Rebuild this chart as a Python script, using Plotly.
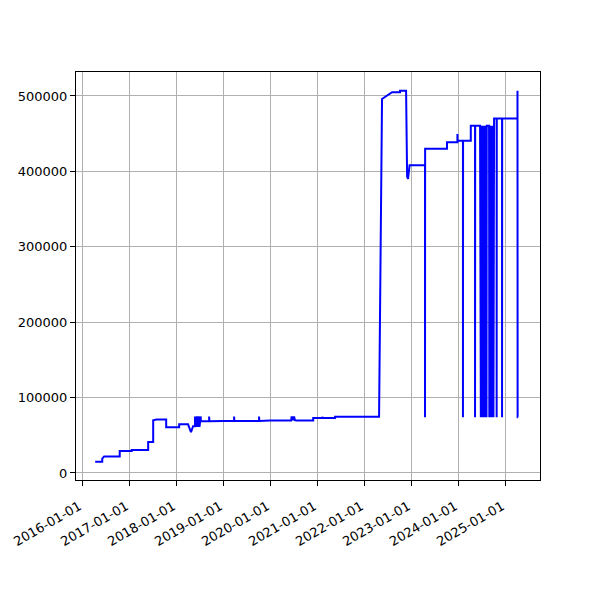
import plotly.graph_objects as go

dates = [
    "2016-04-11", "2016-06-05", "2016-06-05", "2016-06-20", "2016-10-19", "2016-10-19",
    "2017-01-20", "2017-01-20", "2017-05-28", "2017-05-28", "2017-07-06", "2017-07-06",
    "2017-08-01", "2017-10-15", "2017-10-15", "2018-01-24", "2018-01-24", "2018-04-03",
    "2018-04-26", "2018-05-12", "2018-05-27", "2018-05-27", "2018-06-03", "2018-06-10",
    "2018-06-17", "2018-06-24", "2018-07-01", "2018-07-11", "2018-07-11", "2018-09-14",
    "2018-09-14", "2018-09-16", "2019-01-01", "2019-03-27", "2019-03-27", "2019-03-29",
    "2019-10-07", "2019-10-07", "2019-10-09", "2020-01-01", "2020-06-13", "2020-06-16",
    "2020-06-20", "2020-06-25", "2020-06-30", "2020-07-05", "2020-07-12", "2020-07-22",
    "2020-12-01", "2020-12-01", "2021-02-10", "2021-02-10", "2021-02-12", "2021-05-20",
    "2021-05-20", "2022-04-27", "2022-05-20", "2022-08-06", "2022-10-07", "2022-10-07",
    "2022-11-23", "2022-12-01", "2022-12-08", "2022-12-20", "2023-04-19", "2023-04-19",
    "2023-04-20", "2023-10-07", "2023-10-07", "2023-12-27", "2023-12-27", "2023-12-28",
    "2024-02-08", "2024-02-08", "2024-02-09", "2024-04-09", "2024-04-09", "2024-05-12",
    "2024-05-12", "2024-05-13",
    "2024-06-20", "2024-06-22", "2024-06-24", "2024-06-26", "2024-06-28", "2024-06-30",
    "2024-07-02", "2024-07-04", "2024-07-06", "2024-07-08", "2024-07-10", "2024-07-12",
    "2024-07-14", "2024-07-16", "2024-07-18", "2024-07-20", "2024-07-22", "2024-07-24",
    "2024-07-26", "2024-07-28", "2024-07-30", "2024-08-01", "2024-08-03", "2024-08-05",
    "2024-08-07", "2024-08-09", "2024-08-11", "2024-08-13",
    "2024-08-29", "2024-08-31", "2024-09-02", "2024-09-04", "2024-09-06", "2024-09-08",
    "2024-09-10", "2024-09-12", "2024-09-14", "2024-09-16", "2024-09-18", "2024-09-20",
    "2024-09-22", "2024-09-24", "2024-09-26", "2024-09-28", "2024-09-30", "2024-10-02",
    "2024-10-04", "2024-10-06", "2024-10-07", "2024-10-07",
    "2024-10-27", "2024-10-27", "2024-10-28",
    "2024-12-08", "2024-12-08", "2024-12-09", "2025-04-07", "2025-04-07", "2025-04-08",
    "2025-04-09", "2025-04-10",
]
values = [
    15000, 15000, 19000, 22000, 22000, 29000,
    29000, 30500, 30500, 41000, 41000, 70000,
    71000, 71000, 60500, 60500, 64500, 64500,
    54000, 62000, 62000, 75000, 61000, 75000,
    61000, 75000, 61000, 75000, 68500, 68500,
    75000, 68500, 69000, 69000, 75000, 69000,
    69000, 75000, 69000, 69500, 69500, 75000,
    70000, 75000, 70000, 75000, 70000, 69500,
    69500, 73000, 73000, 74500, 73000, 73000,
    74500, 74500, 496000, 505000, 505000, 507000,
    507000, 393000, 390000, 408000, 408000, 74000,
    430000, 430000, 438500, 438500, 449500, 440600,
    440600, 74000, 440600, 440600, 460500, 460500,
    74000, 460500,
    460500, 74000, 460500, 74000, 460500, 74000,
    460500, 74000, 460500, 74000, 460500, 74000,
    460500, 74000, 460500, 74000, 460500, 74000,
    460500, 74000, 460500, 74000, 460500, 74000,
    460500, 74000, 460500, 460500,
    460500, 74000, 460500, 74000, 460500, 74000,
    460500, 74000, 460500, 74000, 460500, 74000,
    460500, 74000, 460500, 74000, 460500, 74000,
    460500, 74000, 460500, 470000,
    470000, 74000, 470000,
    470000, 74000, 470000, 470000, 507000, 74000,
    470000, 74000,
]

x_ticks = ["2016-01-01", "2017-01-01", "2018-01-01", "2019-01-01", "2020-01-01",
           "2021-01-01", "2022-01-01", "2023-01-01", "2024-01-01", "2025-01-01"]
y_ticks = [0, 100000, 200000, 300000, 400000, 500000]

fig = go.Figure()
fig.add_trace(go.Scatter(x=dates, y=values, mode="lines",
                         line=dict(color="#0000ff", width=2), showlegend=False))

axis_common = dict(
    showline=True, linecolor="black", linewidth=1, mirror=True,
    ticks="outside", ticklen=5, tickcolor="black", tickwidth=1,
    showgrid=True, gridcolor="#b0b0b0", gridwidth=1, zeroline=False,
    automargin=False,
    tickfont=dict(family="DejaVu Sans", size=13, color="black"),
)

fig.update_layout(
    width=600, height=600,
    margin=dict(l=68, r=68, t=64, b=128),
    paper_bgcolor="white", plot_bgcolor="white",
    xaxis=dict(type="date", range=["2015-11-14", "2025-09-29"],
               tickvals=x_ticks, ticktext=x_ticks, tickangle=-30,
               ticklabelstandoff=8, ticklabelshift=-3, **axis_common),
    yaxis=dict(range=[-9300, 531800], tickvals=y_ticks,
               ticktext=[str(v) for v in y_ticks], **axis_common),
)

fig.write_html("out.html")
